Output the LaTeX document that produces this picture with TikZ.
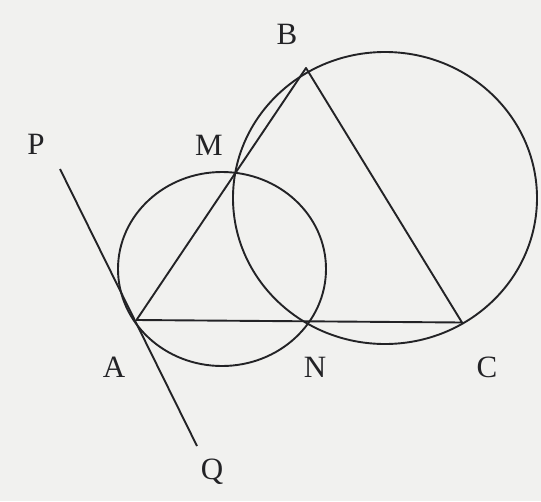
\documentclass[tikz,border=0pt]{standalone}
\usepackage{fontspec}
\setmainfont{Liberation Serif}
\definecolor{bg}{RGB}{241,241,239}
\definecolor{ink}{RGB}{35,35,38}
\begin{document}
\begin{tikzpicture}[x=1pt,y=-1pt,
  geo/.style={line width=1.9pt, draw=ink},
  lbl/.style={font=\fontsize{31}{31}\selectfont, text=ink, inner sep=0pt}]
\fill[bg] (0,0) rectangle (541,501);
\useasboundingbox (0,0) rectangle (541,501);
\coordinate (A) at (136.5,320);
\coordinate (B) at (306,68);
\coordinate (C) at (462,322.5);
\coordinate (M) at (235,173);
\coordinate (N) at (311,322);
\coordinate (P) at (60,169);
\coordinate (Q) at (197,446);
\coordinate (O1) at (222,269);
\coordinate (O2) at (385,198);
\draw[geo] (O1) ellipse [x radius=104, y radius=97];
\draw[geo] (O2) ellipse [x radius=152, y radius=146];
\draw[geo, line join=round] (A) -- (B) -- (C) -- cycle;
\draw[geo] (P) -- (Q);
\node[lbl] (lP) at (36,144) {P};
\node[lbl] (lM) at (209,145) {M};
\node[lbl] (lB) at (287,34) {B};
\node[lbl] (lA) at (114,367) {A};
\node[lbl] (lN) at (315,367) {N};
\node[lbl] (lC) at (487,367) {C};
\node[lbl] (lQ) at (212,472) {Q};
\end{tikzpicture}
\end{document}
